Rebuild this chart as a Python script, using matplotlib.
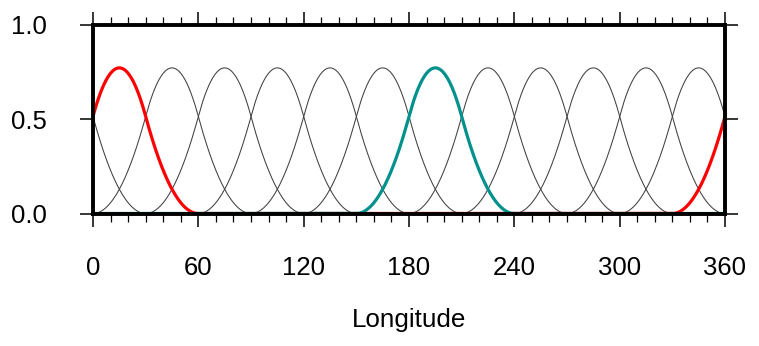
import matplotlib

matplotlib.use("Agg")
import matplotlib.pyplot as plt
import numpy as np
from matplotlib.ticker import MultipleLocator

# periodic quadratic B-spline basis on longitude, knots every 30 degrees
knot_spacing = 30.0
centers = [15, 45, 75, 105, 135, 165, 195, 225, 255, 285, 315, 345]
peak_scale = 1.03
highlight = {15: "#ff0000", 195: "#00918c"}

x_ticks = [0, 60, 120, 180, 240, 300, 360]
y_ticks = [0.0, 0.5, 1.0]


def bspline2(lon, center):
    # distance wrapped onto the circle, in knot units, shifted to [0, 3]
    d = (lon - center + 180) % 360 - 180
    t = d / knot_spacing + 1.5
    out = np.zeros_like(t)
    m1 = (t >= 0) & (t < 1)
    m2 = (t >= 1) & (t < 2)
    m3 = (t >= 2) & (t < 3)
    out[m1] = t[m1] ** 2 / 2
    out[m2] = (-2 * t[m2] ** 2 + 6 * t[m2] - 3) / 2
    out[m3] = (3 - t[m3]) ** 2 / 2
    return out * peak_scale


plt.rcParams["font.family"] = ["Liberation Sans", "DejaVu Sans"]

fig = plt.figure(figsize=(7.59, 3.46), dpi=100)
ax = fig.add_axes([93 / 759, 1 - 213.5 / 346, 632 / 759, 188.5 / 346])

lon = np.linspace(0, 360, 1441)
for c in centers:
    if c in highlight:
        continue
    ax.plot(lon, bspline2(lon, c), color="#404040", lw=0.75, zorder=2.0)
for c, col in highlight.items():
    # stays under the frame so the zero stretches hide behind it
    ax.plot(lon, bspline2(lon, c), color=col, lw=2.3, zorder=2.2,
            solid_capstyle="butt")

ax.set_xlim(0, 360)
ax.set_ylim(0, 1)
ax.set_xticks(x_ticks)
ax.set_yticks(y_ticks)
ax.set_yticklabels([f"{v:.1f}" for v in y_ticks])
ax.xaxis.set_minor_locator(MultipleLocator(10))

ax.tick_params(axis="x", which="major", direction="out", length=9.5, width=1.1,
               top=True, labelsize=18.5, pad=21)
ax.tick_params(axis="x", which="minor", direction="out", length=6, width=0.9,
               top=True)
ax.tick_params(axis="y", which="major", direction="out", length=9.5, width=1.1,
               right=True, labelsize=18.5, pad=24)
ax.set_xlabel("Longitude", fontsize=18.7, labelpad=20.5)

for spine in ax.spines.values():
    spine.set_linewidth(2.8)
    spine.set_color("black")
    spine.set_zorder(3)

fig.savefig("out.png", dpi=100)
plt.close(fig)
